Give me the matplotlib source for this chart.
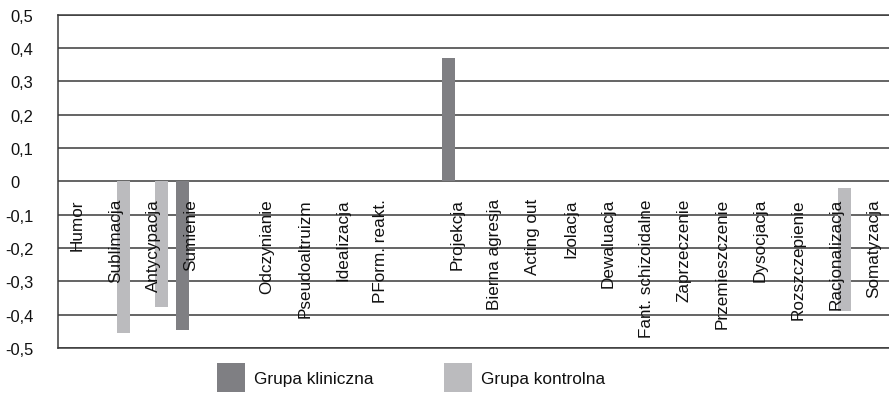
import numpy as np
import matplotlib
matplotlib.use("Agg")
import matplotlib.pyplot as plt
from matplotlib.transforms import ScaledTranslation

plt.rcParams['font.family'] = ['Liberation Sans', 'DejaVu Sans']

# categories (two empty slots in the original layout)
kategorie = ['Humor', 'Sublimacja', 'Antycypacja', 'Sumienie', '',
             'Odczynianie', 'Pseudoaltruizm', 'Idealizacja', 'PForm. reakt.', '',
             'Projekcja', 'Bierna agresja', 'Acting out', 'Izolacja', 'Dewaluacja',
             'Fant. schizoidalne', 'Zaprzeczenie', 'Przemieszczenie', 'Dysocjacja',
             'Rozszczepienie', 'Racjonalizacja', 'Somatyzacja']

n = np.nan
kliniczna = [n, n, n, -0.445, n, n, n, n, n, n, 0.371,
             n, n, n, n, n, n, n, n, n, n, n]
kontrolna = [n, -0.455, -0.376, n, n, n, n, n, n, n, n,
             n, n, n, n, n, n, n, n, n, -0.39, n]
# racjonalizacja bar starts slightly below zero in the original
kontrolna_start = [0, 0, 0, 0, 0, 0, 0, 0, 0, 0, 0,
                   0, 0, 0, 0, 0, 0, 0, 0, 0, -0.02, 0]

yticks = [0.5, 0.4, 0.3, 0.2, 0.1, 0, -0.1, -0.2, -0.3, -0.4, -0.5]
ytick_labels = ['0,5', '0,4', '0,3', '0,2', '0,1', '0',
                '-0,1', '-0,2', '-0,3', '-0,4', '-0,5']

c_klin = '#7f7f83'
c_kontr = '#bbbbbe'
line_c = '#3a3a3a'
txt_c = '#111111'

fig = plt.figure(figsize=(8.89, 4.02), dpi=100)
ax = fig.add_axes([0.0656, 0.1318, 0.939, 0.829])

x = np.arange(len(kategorie))
w = 0.343
off = 0.224
kontr_h = [v - s for v, s in zip(kontrolna, kontrolna_start)]

b1 = ax.bar(x - off, kliniczna, w, color=c_klin, zorder=3, label='Grupa kliniczna')
b2 = ax.bar(x + off, kontr_h, w, bottom=kontrolna_start, color=c_kontr, zorder=3,
            label='Grupa kontrolna')

for i, name in enumerate(kategorie):
    if name:
        ax.text(i, -0.05, name, rotation=90, ha='center', va='top',
                fontsize=12.3, color=txt_c, zorder=4)

ax.set_xlim(-0.5, len(kategorie) - 0.5)
ax.set_ylim(-0.5, 0.5)
ax.set_xticks([])
ax.set_yticks(yticks)
ax.set_yticklabels(ytick_labels, fontsize=11.9, color=txt_c)
ax.tick_params(axis='y', length=0, pad=34.6)
for lbl, v in zip(ax.get_yticklabels(), yticks):
    lbl.set_ha('left')
    if v < 0:
        lbl.set_transform(lbl.get_transform() + ScaledTranslation(-5 / 100, 0, fig.dpi_scale_trans))

ax.grid(axis='y', color=line_c, linewidth=1.1, zorder=1)
ax.set_axisbelow(True)
for s in ['top', 'bottom', 'right']:
    ax.spines[s].set_visible(False)
ax.spines['left'].set_color(line_c)
ax.spines['left'].set_linewidth(1.1)
ax.axhline(0.5, color=line_c, linewidth=1.1, clip_on=False, zorder=1)
ax.axhline(-0.5, color=line_c, linewidth=1.1, clip_on=False, zorder=1)

leg = fig.legend(handles=[b1, b2], loc='upper left', bbox_to_anchor=(217 / 889, 1 - 364 / 402),
                 ncol=2, frameon=False, fontsize=12.4, handlelength=1.6, handleheight=2.2,
                 handletextpad=0.55, columnspacing=4.1, borderpad=0, borderaxespad=0)
for t in leg.get_texts():
    t.set_color(txt_c)

fig.savefig('out.png', dpi=100)
